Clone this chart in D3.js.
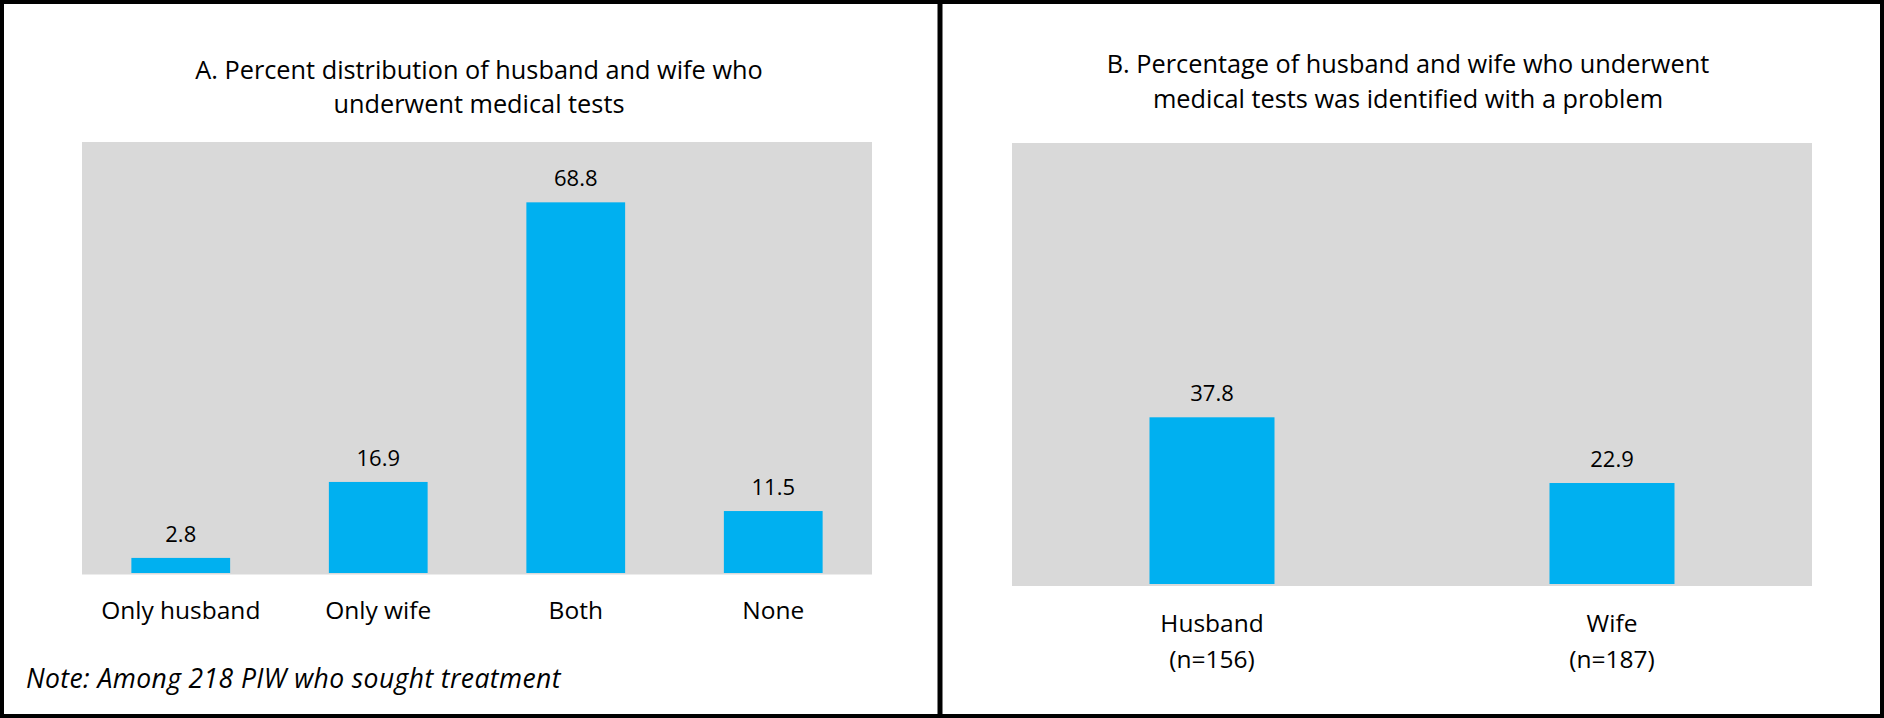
<!DOCTYPE html>
<html>
<head>
<meta charset="utf-8">
<script src="https://cdn.jsdelivr.net/npm/d3@7"></script>
<style>
  html, body { margin: 0; padding: 0; background: #ffffff; }
  svg { display: block; }
  text { font-family: "Open Sans", sans-serif; fill: #000; }
</style>
</head>
<body>
<svg id="chart" width="1884" height="718"></svg>
<script>
// ---- Data ----
const titleA = ["A. Percent distribution of husband and wife who", "underwent medical tests"];
const categoriesA = ["Only husband", "Only wife", "Both", "None"];
const valuesA = [2.8, 16.9, 68.8, 11.5];
const noteA = "Note: Among 218 PIW who sought treatment";

const titleB = ["B. Percentage of husband and wife who underwent", "medical tests was identified with a problem"];
const categoriesB = ["Husband", "Wife"];
const sampleSizesB = ["(n=156)", "(n=187)"];
const valuesB = [37.8, 22.9];

const yMaxA = 80;
const yMaxB = 100;

// ---- Styles ----
const barColor = "#00B0F0";
const plotBg = "#D9D9D9";

const svg = d3.select("#chart");

// Panel frames
svg.append("rect").attr("x", 0).attr("y", 0).attr("width", 1884).attr("height", 718).attr("fill", "#fff");
svg.append("rect")
  .attr("x", 2).attr("y", 2).attr("width", 1880).attr("height", 714)
  .attr("fill", "none").attr("stroke", "#000").attr("stroke-width", 4);
svg.append("line")
  .attr("x1", 940).attr("x2", 940).attr("y1", 0).attr("y2", 718)
  .attr("stroke", "#000").attr("stroke-width", 5);

function drawPanel(cfg) {
  const g = svg.append("g");
  const x = d3.scaleBand()
    .domain(cfg.categories)
    .range([cfg.left, cfg.right])
    .paddingInner(1 - cfg.barFrac)
    .paddingOuter((1 - cfg.barFrac) / 2);
  const y = d3.scaleLinear().domain([0, cfg.yMax]).range([cfg.baseline, cfg.top]);

  // plot background
  g.append("rect")
    .attr("x", cfg.left).attr("y", cfg.top)
    .attr("width", cfg.right - cfg.left)
    .attr("height", cfg.bgBottom - cfg.top)
    .attr("fill", plotBg);

  // title
  const t = g.append("text")
    .attr("text-anchor", "middle")
    .attr("font-size", cfg.titleSize);
  cfg.title.forEach((line, i) => {
    t.append("tspan").attr("x", cfg.titleX).attr("y", cfg.titleY + i * cfg.titleLead).text(line);
  });

  const data = cfg.categories.map((c, i) => ({ c, v: cfg.values[i], i }));

  // bars
  g.selectAll("rect.bar").data(data).join("rect")
    .attr("class", "bar")
    .attr("x", d => x(d.c))
    .attr("width", x.bandwidth())
    .attr("y", d => y(d.v))
    .attr("height", d => y(0) - y(d.v))
    .attr("fill", barColor);

  // value labels
  g.selectAll("text.val").data(data).join("text")
    .attr("class", "val")
    .attr("x", d => x(d.c) + x.bandwidth() / 2)
    .attr("y", d => y(d.v) - 16)
    .attr("text-anchor", "middle")
    .attr("font-size", cfg.valueSize)
    .text(d => d.v.toFixed(1));

  // x axis
  const axis = d3.axisBottom(x).tickSize(0).tickPadding(0);
  const ag = g.append("g")
    .attr("transform", `translate(0,${cfg.labelY})`)
    .call(axis);
  ag.select(".domain").remove();
  ag.attr("font-family", null).attr("font-size", null);
  ag.selectAll(".tick text")
    .attr("font-size", cfg.labelSize)
    .attr("fill", "#000")
    .attr("dy", null)
    .attr("y", 0)
    .each(function (d, i) {
      const el = d3.select(this);
      el.text(null);
      el.append("tspan").attr("x", 0).attr("y", 0).text(d);
      if (cfg.sub) {
        el.append("tspan").attr("x", 0).attr("y", cfg.subLead).text(cfg.sub[i]);
      }
    });
  return g;
}

drawPanel({
  categories: categoriesA, values: valuesA, yMax: yMaxA,
  left: 82, right: 872, top: 142, baseline: 573, bgBottom: 574.5, barFrac: 0.5,
  title: titleA, titleX: 479, titleY: 79, titleLead: 34, titleSize: 25.3,
  valueSize: 22, labelSize: 24.5, labelY: 619
});

drawPanel({
  categories: categoriesB, values: valuesB, yMax: yMaxB,
  left: 1012, right: 1812, top: 143, baseline: 584, bgBottom: 586, barFrac: 0.3125,
  title: titleB, titleX: 1408, titleY: 73, titleLead: 35, titleSize: 25.3,
  valueSize: 22, labelSize: 24.5, labelY: 632, sub: sampleSizesB, subLead: 36
});

// note
svg.append("text")
  .attr("x", 26).attr("y", 688)
  .attr("font-size", 26.5)
  .attr("letter-spacing", 0.4)
  .attr("font-style", "italic")
  .text(noteA);
</script>
</body>
</html>
